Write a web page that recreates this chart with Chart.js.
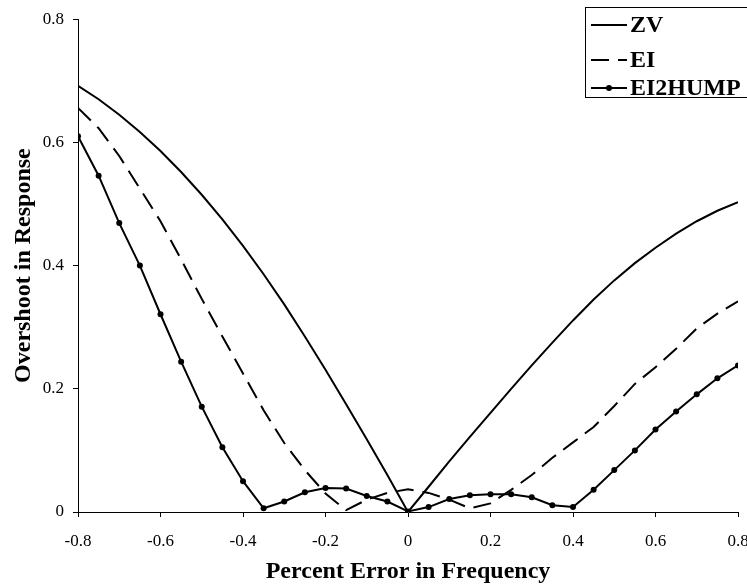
<!DOCTYPE html>
<html>
<head>
<meta charset="utf-8">
<script src="https://cdn.jsdelivr.net/npm/chart.js@4/dist/chart.umd.min.js"></script>
<style>
  html, body { margin: 0; padding: 0; background: #fff; }
  #wrap { width: 747px; height: 587px; }
</style>
</head>
<body>
<div id="wrap"><canvas id="c" width="747" height="587"></canvas></div>
<script>
// percent error in frequency (x)
const errors = [-0.8, -0.75, -0.7, -0.65, -0.6, -0.55, -0.5, -0.45, -0.4, -0.35, -0.3, -0.25, -0.2, -0.15, -0.1, -0.05,
    0, 0.05, 0.1, 0.15, 0.2, 0.25, 0.3, 0.35, 0.4, 0.45, 0.5, 0.55, 0.6, 0.65, 0.7, 0.75, 0.8];

// overshoot values
const zv = [0.692, 0.670, 0.645, 0.617, 0.586, 0.552, 0.515, 0.475, 0.432, 0.386, 0.337, 0.285, 0.231, 0.175, 0.118, 0.060,
    0, 0.041, 0.082, 0.122, 0.161, 0.200, 0.238, 0.275, 0.311, 0.345, 0.376, 0.404, 0.429, 0.452, 0.472, 0.489, 0.503];
const ei = [0.656, 0.623, 0.578, 0.525, 0.472, 0.410, 0.346, 0.285, 0.225, 0.165, 0.112, 0.068, 0.030, 0.003, 0.020, 0.031,
    0.037, 0.031, 0.020, 0.006, 0.014, 0.036, 0.060, 0.088, 0.113, 0.138, 0.172, 0.208, 0.235, 0.265, 0.298, 0.322, 0.342];
const ei2hump = [0.610, 0.546, 0.469, 0.400, 0.321, 0.244, 0.171, 0.105, 0.050, 0.006, 0.017, 0.032, 0.039, 0.038, 0.026, 0.017,
    0.001, 0.008, 0.021, 0.027, 0.029, 0.029, 0.024, 0.011, 0.008, 0.036, 0.068, 0.100, 0.134, 0.163, 0.191, 0.217, 0.238];

const xTicks = [-0.8, -0.6, -0.4, -0.2, 0, 0.2, 0.4, 0.6, 0.8];
const yTicks = [0, 0.2, 0.4, 0.6, 0.8];

const seriesNames = ["ZV", "EI", "EI2HUMP"];

const toPoints = (vals) => vals.map((v, i) => ({ x: errors[i], y: v }));
const serif = "'Liberation Serif', 'Times New Roman', serif";

// 凡例は枠付きで自前で描く
const legendBox = {
    id: "legendBox",
    afterDraw(chart) {
        const ctx = chart.ctx;
        ctx.save();
        ctx.strokeStyle = "#000";
        ctx.lineWidth = 1;
        ctx.strokeRect(585.5, 7.5, 200, 90);
        const rows = [25, 60, 88];
        ctx.font = "bold 24px " + serif;
        ctx.textBaseline = "middle";
        ctx.fillStyle = "#000";
        chart.data.datasets.forEach((ds, i) => {
            const y = rows[i];
            ctx.beginPath();
            ctx.lineWidth = 2;
            ctx.setLineDash(ds.borderDash || []);
            ctx.moveTo(591, y);
            ctx.lineTo(627, y);
            ctx.stroke();
            ctx.setLineDash([]);
            if (ds.pointRadius > 0) {
                ctx.beginPath();
                ctx.arc(609, y, 3, 0, Math.PI * 2);
                ctx.fill();
            }
            ctx.fillText(ds.label, 630, y + 1);
        });
        ctx.restore();
    },
};

new Chart(document.getElementById("c"), {
    type: "line",
    data: {
        datasets: [
            {
                label: seriesNames[0],
                data: toPoints(zv),
                borderColor: "#000",
                borderWidth: 2,
                pointRadius: 0,
            },
            {
                label: seriesNames[1],
                data: toPoints(ei),
                borderColor: "#000",
                borderWidth: 2,
                borderDash: [18, 9],
                pointRadius: 0,
            },
            {
                label: seriesNames[2],
                data: toPoints(ei2hump),
                borderColor: "#000",
                backgroundColor: "#000",
                borderWidth: 2,
                pointRadius: 3,
                pointBorderWidth: 0,
            },
        ],
    },
    options: {
        responsive: false,
        animation: false,
        layout: { padding: { left: 0, right: 9, top: 16, bottom: 0 } },
        plugins: {
            legend: { display: false },
            tooltip: { enabled: false },
        },
        scales: {
            x: {
                type: "linear",
                min: -0.8,
                max: 0.8,
                afterBuildTicks: (s) => { s.ticks = xTicks.map((v) => ({ value: v })); },
                afterFit: (s) => { s.height = 75; s.paddingLeft = 0; s.paddingRight = 0; },
                grid: { drawOnChartArea: false, color: "#000", tickLength: 5 },
                border: { color: "#000", width: 1 },
                ticks: {
                    color: "#000",
                    padding: 14,
                    font: { family: serif, size: 17 },
                    maxRotation: 0,
                    callback: (v) => String(Math.round(v * 10) / 10),
                },
                title: {
                    display: true,
                    text: "Percent Error in Frequency",
                    color: "#000",
                    font: { family: serif, size: 24, weight: "bold" },
                    padding: { top: 0, bottom: 1 },
                },
            },
            y: {
                min: 0,
                max: 0.8,
                afterBuildTicks: (s) => { s.ticks = yTicks.map((v) => ({ value: v })); },
                afterFit: (s) => { s.width = 78; },
                grid: { drawOnChartArea: false, color: "#000", tickLength: 5 },
                border: { color: "#000", width: 1 },
                ticks: {
                    color: "#000",
                    padding: 9,
                    font: { family: serif, size: 17 },
                    callback: (v) => String(Math.round(v * 10) / 10),
                },
                title: {
                    display: true,
                    text: "Overshoot in Response",
                    color: "#000",
                    font: { family: serif, size: 24, weight: "bold" },
                    padding: { top: 9, bottom: 0 },
                },
            },
        },
    },
    plugins: [legendBox],
});
</script>
</body>
</html>
